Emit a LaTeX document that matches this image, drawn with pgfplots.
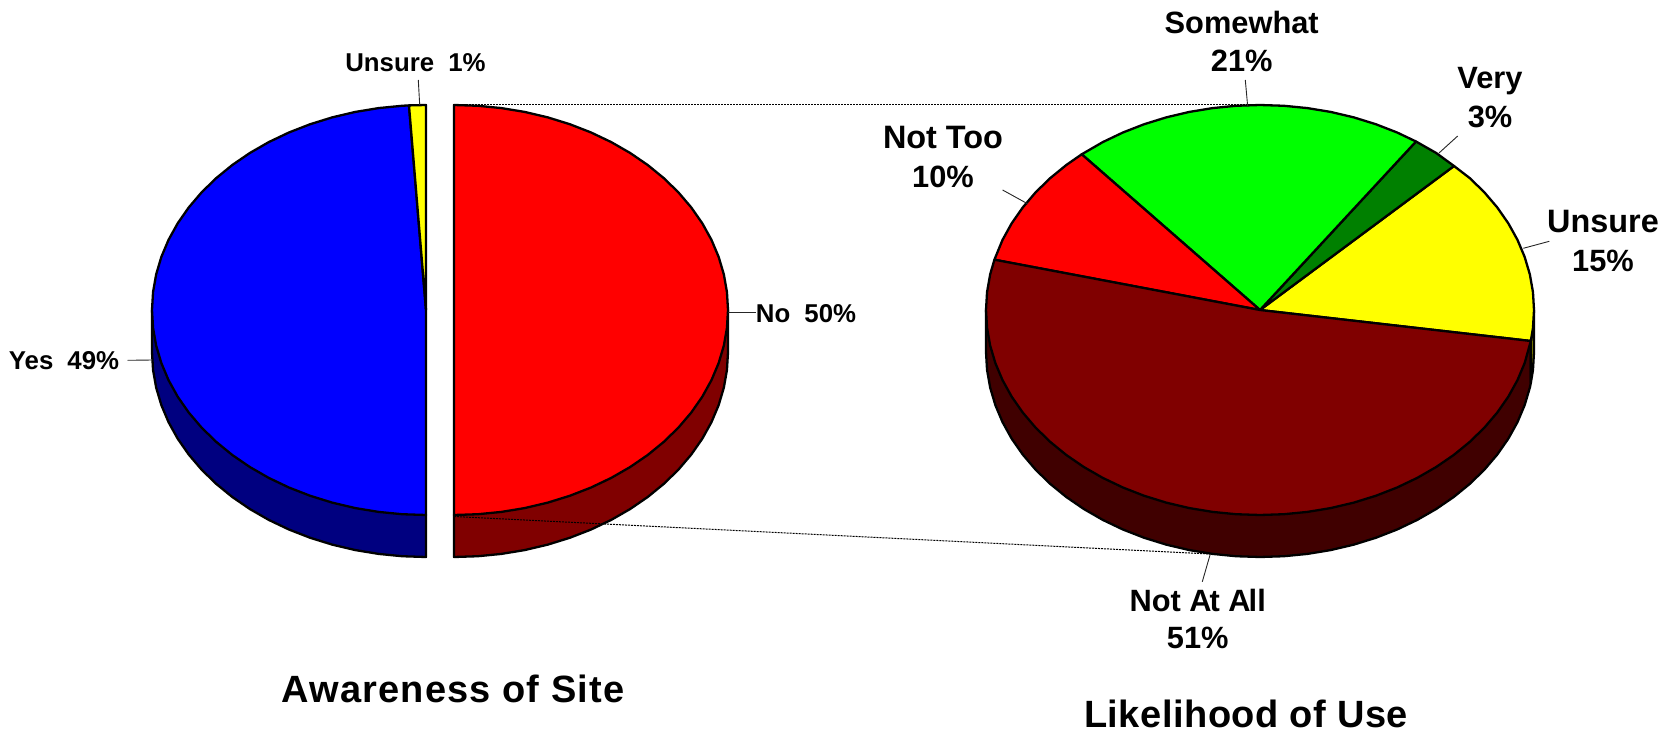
\documentclass[border=0pt]{standalone}
\usepackage{pgfplots}
\pgfplotsset{compat=1.18}
\usepackage{fontspec}
\setmainfont{Liberation Sans}
\newfontfamily\titlefont[LetterSpace=3]{Liberation Sans}
\newfontfamily\titlefontb[LetterSpace=1.3]{Liberation Sans}
\definecolor{pyellow}{HTML}{FFFF00}
\definecolor{pgreen}{HTML}{00FF00}
\definecolor{pdkgreen}{HTML}{008000}
\definecolor{pred}{HTML}{FF0000}
\definecolor{pmaroon}{HTML}{800000}
\definecolor{pdkmaroon}{HTML}{400000}
\definecolor{pblue}{HTML}{0000FF}
\definecolor{pnavy}{HTML}{000080}
\definecolor{polive}{HTML}{808000}
% centre x, centre y, fill, points (offsets from the centre of the pie, in pixels)
\newcommand{\piece}[4]{\addplot[draw=black,line width=1.15pt,line join=round,fill=#3] table[row sep=\\,x expr=\thisrow{x}+#1,y expr=\thisrow{y}+#2]{x y\\ #4 } -- cycle;}
\newcommand{\leader}[4]{\addplot[black!85,line width=0.45pt] coordinates {(#1,#2) (#3,#4)};}
\newcommand{\lab}[3]{\node[anchor=base,inner sep=0pt,font=\fontsize{15.4pt}{18pt}\selectfont\bfseries] at (axis cs:#1,#2) {#3};}
\newcommand{\labb}[3]{\node[anchor=base,inner sep=0pt,font=\fontsize{16.2pt}{18pt}\selectfont\bfseries] at (axis cs:#1,#2) {#3};}
\newcommand{\labs}[3]{\node[anchor=base,inner sep=0pt,font=\fontsize{12.9pt}{15pt}\selectfont\bfseries] at (axis cs:#1,#2) {#3};}
\begin{document}
\begin{tikzpicture}
\path[use as bounding box] (0,0) rectangle (838pt,366.5pt);
\begin{axis}[at={(0,0)},anchor=south west,scale only axis,width=838pt,height=366.5pt,
  xmin=0,xmax=1676,ymin=0,ymax=733,y dir=reverse,hide axis,clip=false]
% ---------- left pie: side walls
\piece{426}{310}{pnavy}{-274 0\\ -274 42\\ -272.96 59.87\\ -269.84 77.60\\ -264.66 95.06\\ -257.48 112.11\\ -248.33 128.64\\ -237.29 144.5\\ -224.45 159.58\\ -209.9 173.77\\ -193.75 186.96\\ -176.12 199.04\\ -157.16 209.93\\ -137 219.54\\ -115.8 227.79\\ -93.71 234.64\\ -70.92 240.02\\ -47.58 243.89\\ -23.88 246.22\\ 0 247\\ 0 205\\}
\piece{454}{310}{pmaroon}{0 205\\ 0 247\\ 23.88 246.22\\ 47.58 243.89\\ 70.92 240.02\\ 93.71 234.64\\ 115.8 227.79\\ 137 219.54\\ 157.16 209.93\\ 176.12 199.04\\ 193.75 186.96\\ 209.9 173.77\\ 224.45 159.58\\ 237.29 144.5\\ 248.33 128.64\\ 257.48 112.11\\ 264.66 95.06\\ 269.84 77.60\\ 272.96 59.87\\ 274 42\\ 274 0\\}
% ---------- left pie: top faces
\piece{426}{310}{pblue}{0 0\\ -17 -204.6\\ -23.88 -204.22\\ -47.58 -201.89\\ -70.92 -198.02\\ -93.71 -192.64\\ -115.8 -185.79\\ -137 -177.54\\ -157.16 -167.93\\ -176.12 -157.04\\ -193.75 -144.96\\ -209.9 -131.77\\ -224.45 -117.58\\ -237.29 -102.5\\ -248.33 -86.64\\ -257.48 -70.11\\ -264.66 -53.06\\ -269.84 -35.6\\ -272.96 -17.87\\ -274 0\\ -272.96 17.87\\ -269.84 35.6\\ -264.66 53.06\\ -257.48 70.11\\ -248.33 86.64\\ -237.29 102.5\\ -224.45 117.58\\ -209.9 131.77\\ -193.75 144.96\\ -176.12 157.04\\ -157.16 167.93\\ -137 177.54\\ -115.8 185.79\\ -93.71 192.64\\ -70.92 198.02\\ -47.58 201.89\\ -23.88 204.22\\ 0 205\\}
\piece{426}{310}{pyellow}{0 0\\ 0 -205\\ -17 -204.6\\}
\piece{454}{310}{pred}{0 -205\\ 23.88 -204.22\\ 47.58 -201.89\\ 70.92 -198.02\\ 93.71 -192.64\\ 115.8 -185.79\\ 137 -177.54\\ 157.16 -167.93\\ 176.12 -157.04\\ 193.75 -144.96\\ 209.9 -131.77\\ 224.45 -117.58\\ 237.29 -102.5\\ 248.33 -86.64\\ 257.48 -70.11\\ 264.66 -53.06\\ 269.84 -35.6\\ 272.96 -17.87\\ 274 0\\ 272.96 17.87\\ 269.84 35.6\\ 264.66 53.06\\ 257.48 70.11\\ 248.33 86.64\\ 237.29 102.5\\ 224.45 117.58\\ 209.9 131.77\\ 193.75 144.96\\ 176.12 157.04\\ 157.16 167.93\\ 137 177.54\\ 115.8 185.79\\ 93.71 192.64\\ 70.92 198.02\\ 47.58 201.89\\ 23.88 204.22\\ 0 205\\}
% ---------- series lines
\addplot[black,line width=0.5pt,dash pattern=on 1pt off 0.5pt] coordinates {(454,105) (1250,105)};
\addplot[black,line width=0.5pt,dash pattern=on 1pt off 0.5pt] coordinates {(454,516.5) (1210,554)};
% ---------- right pie: side walls
\piece{1260}{310}{pdkmaroon}{-274 0\\ -274 42\\ -272.96 59.87\\ -269.84 77.60\\ -264.66 95.06\\ -257.48 112.11\\ -248.33 128.64\\ -237.29 144.5\\ -224.45 159.58\\ -209.9 173.77\\ -193.75 186.96\\ -176.12 199.04\\ -157.16 209.93\\ -137 219.54\\ -115.8 227.79\\ -93.71 234.64\\ -70.92 240.02\\ -47.58 243.89\\ -23.88 246.22\\ 0 247\\ 23.88 246.22\\ 47.58 243.89\\ 70.92 240.02\\ 93.71 234.64\\ 115.8 227.79\\ 137 219.54\\ 157.16 209.93\\ 176.12 199.04\\ 193.75 186.96\\ 209.9 173.77\\ 224.45 159.58\\ 237.29 144.5\\ 248.33 128.64\\ 257.48 112.11\\ 264.66 95.06\\ 269.84 77.60\\ 270.8 73\\ 270.8 31\\}
\piece{1260}{310}{polive}{270.8 31\\ 272.96 17.87\\ 274 0\\ 274 42\\ 272.96 59.87\\ 270.8 73\\}
% ---------- right pie: top faces
\piece{1260}{310}{pyellow}{0 0\\ 270.8 31\\ 272.96 17.87\\ 274 0\\ 272.96 -17.87\\ 269.84 -35.6\\ 264.66 -53.06\\ 257.48 -70.11\\ 248.33 -86.64\\ 237.29 -102.5\\ 224.45 -117.58\\ 209.9 -131.77\\ 194 -144\\}
\piece{1260}{310}{pdkgreen}{0 0\\ 194 -144\\ 176.12 -157.04\\ 156 -168.5\\}
\piece{1260}{310}{pgreen}{0 0\\ 156 -168.5\\ 137 -177.54\\ 115.8 -185.79\\ 93.71 -192.64\\ 70.92 -198.02\\ 47.58 -201.89\\ 23.88 -204.22\\ 0 -205\\ -23.88 -204.22\\ -47.58 -201.89\\ -70.92 -198.02\\ -93.71 -192.64\\ -115.8 -185.79\\ -137 -177.54\\ -157.16 -167.93\\ -178.3 -155.7\\}
\piece{1260}{310}{pred}{0 0\\ -178.3 -155.7\\ -193.75 -144.96\\ -209.9 -131.77\\ -224.45 -117.58\\ -237.29 -102.5\\ -248.33 -86.64\\ -257.48 -70.11\\ -265.6 -50.3\\}
\piece{1260}{310}{pmaroon}{0 0\\ -265.6 -50.3\\ -269.84 -35.6\\ -272.96 -17.87\\ -274 0\\ -272.96 17.87\\ -269.84 35.6\\ -264.66 53.06\\ -257.48 70.11\\ -248.33 86.64\\ -237.29 102.5\\ -224.45 117.58\\ -209.9 131.77\\ -193.75 144.96\\ -176.12 157.04\\ -157.16 167.93\\ -137 177.54\\ -115.8 185.79\\ -93.71 192.64\\ -70.92 198.02\\ -47.58 201.89\\ -23.88 204.22\\ 0 205\\ 23.88 204.22\\ 47.58 201.89\\ 70.92 198.02\\ 93.71 192.64\\ 115.8 185.79\\ 137 177.54\\ 157.16 167.93\\ 176.12 157.04\\ 193.75 144.96\\ 209.9 131.77\\ 224.45 117.58\\ 237.29 102.5\\ 248.33 86.64\\ 257.48 70.11\\ 264.66 53.06\\ 270.8 31\\}
% ---------- leader lines
\leader{127.7}{360.3}{152.7}{360}
\leader{728}{312}{756}{312}
\leader{418.3}{80}{419.7}{105}
\leader{1245.3}{80}{1247.7}{106.7}
\leader{1457.7}{136}{1439}{153}
\leader{1549.3}{241.3}{1523.3}{248.3}
\leader{1210}{555}{1202.3}{581.7}
\leader{1002.6}{190}{1028}{204}
% ---------- labels
\labs{415.5}{71.7}{Unsure\hspace{0.27em} 1\%}
\labs{64}{369}{Yes\hspace{0.27em} 49\%}
\labs{806}{322}{No\hspace{0.27em} 50\%}
\lab{1241.7}{33.3}{Somewhat}
\lab{1241.7}{71.7}{21\%}
\labb{943}{148.6}{Not Too}
\lab{943}{187}{10\%}
\lab{1490}{88.3}{Very}
\lab{1490}{127.3}{3\%}
\labb{1603}{232.7}{Unsure}
\lab{1603}{271.7}{15\%}
\lab{1197.7}{611.7}{Not A\kern-1pt t A\kern-1pt ll}
\lab{1197.7}{648.3}{51\%}
\node[anchor=base,inner sep=0pt,font=\fontsize{19pt}{22pt}\selectfont\titlefont\bfseries] at (axis cs:453,702) {Awareness of Site};
\node[anchor=base,inner sep=0pt,font=\fontsize{19pt}{22pt}\selectfont\titlefontb\bfseries] at (axis cs:1246,727) {Likelihood of Use};
\end{axis}
\end{tikzpicture}
\end{document}
